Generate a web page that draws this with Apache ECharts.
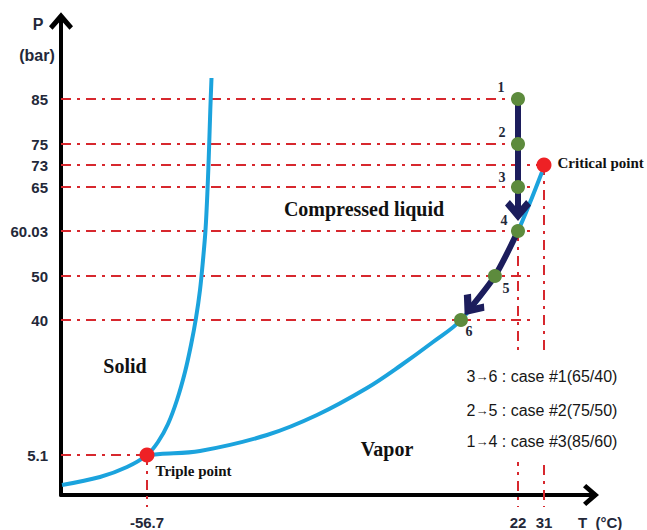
<!DOCTYPE html>
<html><head><meta charset="utf-8">
<script src="https://cdn.jsdelivr.net/npm/echarts@6/dist/echarts.min.js"></script>
<style>html,body{margin:0;padding:0;background:#fff}#c{width:647px;height:530px}</style>
</head><body><div id="c"></div>
<script>
// ---------------- data ----------------
const pTicks = [5.1, 40, 50, 60.03, 65, 73, 75, 85];      // P (bar) tick labels
const tTicks = [-56.7, 22, 31];                            // T (°C) tick labels
const stateNames = ['1', '2', '3', '4', '5', '6'];
const stateP = [85, 75, 65, 60.03, 50, 40];
const stateT = [22, 22, 22, 22, 17.1, 9.9];
const criticalPoint = [31, 73];
const triplePoint = [-56.7, 5.1];
const caseFrom = ['3', '2', '1'];
const caseTo = ['6 : case #1(65/40)', '5 : case #2(75/50)', '4 : case #3(85/60)'];
const processPaths = [[0, 3], [3, 4, 5]];                  // state indices of the two arrows
const guideP = [85, 75, 73, 65, 60.03, 50, 40, 5.1];       // horizontal guide lines
const guideTEnd = [22, 22, 31, 28, 28, 28, 28, -56.7];
const vGuideT = [-56.7, 22, 31];                           // vertical guide lines
const vGuideP = [5.1, 60.03, 73];
// The sketch's axes are not to scale: place of each tick on the schematic axis
const pTickPos = [40, 175, 219, 264, 308, 330, 351, 396];
const tTickPos = [86, 457, 483];
// Phase boundaries (schematic axis units)
const fusionSublimationCurve = [[1,10],[39,18],[66,28],[86,40],[97,53],[107,71],[116,95],[124,123],[130,150],[135,177],[139,205],[142,235],[144.5,265],[146.5,305],[148,345],[149.3,385],[150.5,417]];
const vaporizationCurve = [[86,40],[99,41],[139,44],[206,60],[256,80],[306,107],[339,129],[372,153],[400,175],[434,219],[457,264],[481,323]];

// ---------------- helpers ----------------
function interp(x, xs, ys) {
  let i = 0;
  if (x >= xs[xs.length - 1]) i = xs.length - 2;
  else if (x > xs[0]) { while (x > xs[i + 1]) i++; }
  return ys[i] + (x - xs[i]) * (ys[i + 1] - ys[i]) / (xs[i + 1] - xs[i]);
}
const tx = t => interp(t, tTicks, tTickPos);
const py = p => interp(p, pTicks, pTickPos);
const states = stateNames.map((n, i) => [tx(stateT[i]), py(stateP[i])]);

const RED = '#d7282e', BLUE = '#1ba3dd', NAVY = '#1c1d5c', GREEN = '#5d8b3d', PT_RED = '#ee2125';
const TXT = '#232839';
const DASH = [10, 6, 3, 6];
const CHEVRON = 'path://M12,0 L24,13 L19.5,17.5 L12,9.5 L4.5,17.5 L0,13 Z';
const AXIS_CHEVRON = 'path://M12,0 L24,14 L20.5,17.5 L12,8 L3.5,17.5 L0,14 Z';
const HEAD = [26, 21];
const GUIDE_BOTTOM = -12;
const SERIF = '"Liberation Serif", "DejaVu Serif", serif';
const SANS = '"Liberation Sans", Arial, sans-serif';

function arrow(idx, gap) {
  const pts = idx.map(k => states[k].slice());
  const a = pts[pts.length - 2], b = pts[pts.length - 1];
  const d = Math.hypot(b[0] - a[0], b[1] - a[1]);
  const ux = (b[0] - a[0]) / d, uy = (b[1] - a[1]) / d;
  const tip = [b[0] - gap * ux, b[1] - gap * uy];
  const shaft = pts.slice(0, -1).concat([[tip[0] - 5 * ux, tip[1] - 5 * uy]]);
  const head = [tip[0] - HEAD[1] / 2 * ux, tip[1] - HEAD[1] / 2 * uy];
  const rot = Math.atan2(uy, ux) * 180 / Math.PI - 90;
  return { shaft, head, rot };
}
const arrows = [arrow(processPaths[0], 10), arrow(processPaths[1], 6)];

// ---------------- series ----------------
const series = [];
guideP.forEach((p, i) => series.push({
  type: 'line', data: [[0, py(p)], [tx(guideTEnd[i]), py(p)]], symbol: 'none', silent: true, z: 1,
  lineStyle: { color: RED, width: 2, type: DASH }
}));
vGuideT.forEach((t, i) => series.push({
  type: 'line', data: [[tx(t), py(vGuideP[i])], [tx(t), GUIDE_BOTTOM]], symbol: 'none', silent: true, z: 1, clip: false,
  lineStyle: { color: RED, width: 2, type: DASH }
}));
[fusionSublimationCurve, vaporizationCurve].forEach(c => series.push({
  type: 'line', data: c, smooth: 0.35, symbol: 'none', z: 3, lineStyle: { color: BLUE, width: 4 }
}));
arrows.forEach(a => {
  series.push({ type: 'line', data: a.shaft, smooth: 0.25, symbol: 'none', z: 4, lineStyle: { color: NAVY, width: 6, cap: 'butt' } });
});
series.push({
  type: 'scatter', z: 4, symbol: CHEVRON, symbolSize: HEAD, itemStyle: { color: NAVY, opacity: 1 },
  data: arrows.map(a => ({ value: a.head, symbolRotate: a.rot }))
});
const labelOffsets = [[-17, -12], [-16, -12], [-16, -10], [-14, -11], [11, 12], [8, 11]];
series.push({
  type: 'scatter', z: 5, symbolSize: 14, itemStyle: { color: GREEN, opacity: 1 },
  data: states.map((s, i) => ({
    value: s,
    label: { show: true, position: 'inside', offset: labelOffsets[i], formatter: stateNames[i],
      color: TXT, fontFamily: SERIF, fontWeight: 'bold', fontSize: 14 }
  }))
});
series.push({
  type: 'scatter', z: 5, symbolSize: 15, itemStyle: { color: PT_RED, opacity: 1 },
  data: [
    { value: [tx(criticalPoint[0]), py(criticalPoint[1])],
      label: { show: true, position: 'right', distance: 6, offset: [0, -2], formatter: 'Critical point',
        color: '#111', fontFamily: SERIF, fontWeight: 'bold', fontSize: 15 } },
    { value: [tx(triplePoint[0]), py(triplePoint[1])],
      label: { show: true, position: 'right', distance: 5, offset: [-4, 16], formatter: 'Triple point',
        color: '#111', fontFamily: SERIF, fontWeight: 'bold', fontSize: 15 } }
  ]
});

// ---------------- text ----------------
function txt(text, x, y, font, align, fill) {
  return { type: 'text', x, y, z: 101, silent: true,
    style: { text, font, fill: fill || TXT, align: align || 'center', verticalAlign: 'middle' } };
}
const graphics = [
  txt('P', 38, 24, 'bold 16px ' + SANS),
  txt('(bar)', 37, 55, 'bold 16px ' + SANS),
  txt('T  (°C)', 578, 522, 'bold 15px ' + SANS, 'left'),
  txt('Compressed liquid', 364, 209, 'bold 20px ' + SERIF, 'center', '#111'),
  txt('Solid', 125, 366, 'bold 20px ' + SERIF, 'center', '#111'),
  txt('Vapor', 387, 449, 'bold 20px ' + SERIF, 'center', '#111'),
  { type: 'rect', z: 100, silent: true, shape: { x: 455, y: 356, width: 175, height: 106 }, style: { fill: '#fff' } }
];
caseFrom.forEach((c, i) => graphics.push({
  type: 'text', x: 542, y: [376, 410, 441][i], z: 101, silent: true,
  style: {
    text: '{n|' + c + '}{a|→}{n|' + caseTo[i] + '}', align: 'center', verticalAlign: 'middle',
    rich: {
      n: { font: '16px ' + SANS, fill: '#161616' },
      a: { font: '13px ' + SANS, fill: '#161616' }
    }
  }
}));

const chart = echarts.init(document.getElementById('c'), null, { renderer: 'svg' });
chart.setOption({
  animation: false,
  backgroundColor: '#fff',
  grid: { left: 61, right: 56, top: 21, bottom: 35, containLabel: false, outerBoundsMode: 'none' },
  xAxis: {
    type: 'value', min: 0, max: 530,
    axisLine: { onZero: false, lineStyle: { color: '#000', width: 4 }, symbol: ['none', AXIS_CHEVRON], symbolSize: [22, 16] },
    axisTick: { show: false }, splitLine: { show: false },
    axisLabel: { customValues: tTickPos, margin: 20, color: TXT, fontWeight: 'bold', fontSize: 15, fontFamily: SANS,
      formatter: v => String(tTicks[tTickPos.indexOf(v)]) }
  },
  yAxis: {
    type: 'value', min: 0, max: 474,
    axisLine: { onZero: false, lineStyle: { color: '#000', width: 4 }, symbol: ['none', AXIS_CHEVRON], symbolSize: [24, 18] },
    axisTick: { show: false }, splitLine: { show: false },
    axisLabel: { customValues: pTickPos, margin: 13, color: TXT, fontWeight: 'bold', fontSize: 15, fontFamily: SANS,
      formatter: v => String(pTicks[pTickPos.indexOf(v)]) }
  },
  graphic: { elements: graphics },
  series
});
</script></body></html>
